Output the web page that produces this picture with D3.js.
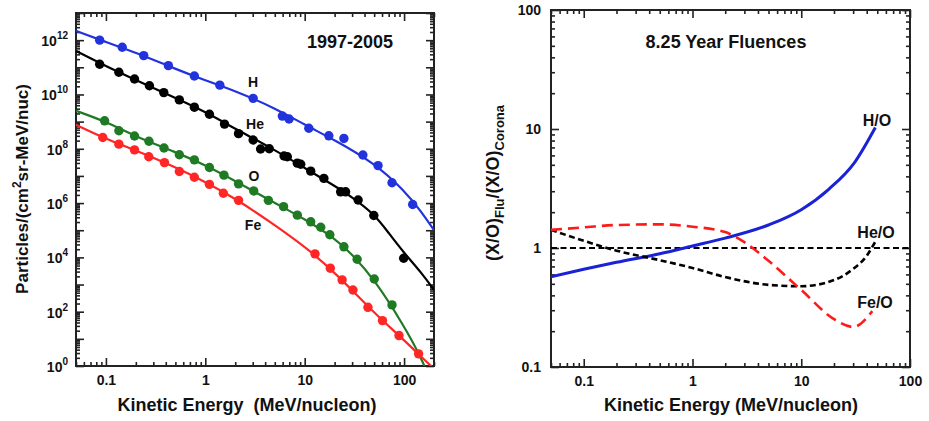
<!DOCTYPE html>
<html>
<head>
<meta charset="utf-8">
<script src="https://cdnjs.cloudflare.com/ajax/libs/d3/7.8.5/d3.min.js"></script>
<style>
  body { margin: 0; background: #fff; }
  svg text { font-family: "Liberation Sans", Arial, Helvetica, sans-serif; font-weight: bold; fill: #111; }
  .tick line { stroke: #222; stroke-width: 1.6; }
  .tick text { font-size: 14px; }
</style>
</head>
<body>
<svg id="chart" width="929" height="421"></svg>
<script>
// ---- left panel: fluence spectra, 1997-2005 ----
const hDots = [[0.0865, 1.0e12], [0.146, 5.5e11], [0.24, 2.7e11], [0.425, 1.15e11], [0.776, 4.8e10],
  [1.40, 2.2e10], [3.03, 7.2e9], [5.96, 1.6e9], [6.96, 1.25e9], [11.0, 5.7e8], [17.5, 3.0e8],
  [24.8, 2.4e8], [38.5, 5.9e7], [54.7, 2.4e7], [75.6, 5.6e6], [122, 8.9e5]];
const hFit = [[0.05, 2.2e12], [0.1, 8.5e11], [0.2, 3.5e11], [0.5, 8.7e10], [1, 3.3e10], [2, 1.35e10],
  [5, 3.2e9], [10, 7.6e8], [20, 2.1e8], [50, 3.0e7], [100, 3.0e6], [150, 4.7e5], [200, 1.0e5]];

const heDots = [[0.0865, 1.3e11], [0.135, 6.6e10], [0.194, 3.7e10], [0.274, 2.1e10], [0.382, 1.17e10],
  [0.548, 6.3e9], [0.776, 3.4e9], [1.10, 1.86e9], [1.56, 8.1e8], [2.16, 3.6e8], [3.03, 2.1e8],
  [3.6, 9.8e7], [4.4, 1.0e8], [6.20, 5.4e7], [6.69, 5.1e7], [8.43, 2.95e7], [9.12, 2.7e7],
  [11.5, 1.5e7], [15.6, 8.1e6], [23.0, 2.6e6], [25.8, 2.6e6], [34.5, 1.3e6], [49.6, 3.5e5], [99, 9.3e3]];
const heFit = [[0.05, 4.0e11], [0.1, 1.1e11], [0.2, 3.4e10], [0.5, 7.4e9], [1, 2.3e9], [2, 5.4e8],
  [5, 9.1e7], [10, 1.95e7], [20, 4.3e6], [30, 1.66e6], [50, 4.0e5], [70, 7.9e4], [100, 1.45e4],
  [150, 2.7e3], [200, 6.3e2]];

const oDots = [[0.097, 1.07e9], [0.135, 4.6e8], [0.194, 2.95e8], [0.271, 1.9e8], [0.384, 1.07e8],
  [0.548, 6.0e7], [0.776, 3.9e7], [1.10, 2.04e7], [1.54, 1.07e7], [2.16, 5.1e6], [3.07, 2.8e6],
  [4.31, 1.26e6], [6.13, 7.4e5], [8.43, 3.6e5], [11.5, 2.04e5], [14.5, 1.29e5], [17.9, 6.8e4],
  [24.8, 2.45e4], [33.7, 8.5e3], [50.1, 1.6e3], [75.6, 178]];
const oFit = [[0.05, 2.5e9], [0.1, 1.0e9], [0.2, 2.8e8], [0.5, 7.6e7], [1, 2.5e7], [2, 6.5e6],
  [5, 1.0e6], [10, 2.6e5], [20, 5.1e4], [30, 1.3e4], [50, 1.6e3], [100, 30], [150, 1.95], [200, 0.14]];

const feDots = [[0.093, 2.6e8], [0.135, 1.48e8], [0.194, 9.1e7], [0.270, 5.1e7], [0.388, 3.1e7],
  [0.548, 1.45e7], [0.776, 8.9e6], [1.10, 4.9e6], [1.52, 2.3e6], [2.16, 1.26e6], [12.7, 1.35e4],
  [18.1, 4.0e3], [23.8, 1.48e3], [30.6, 630], [43.3, 145], [60.6, 47], [88.9, 13.2], [140, 2.8]];
const feFit = [[0.05, 7.6e8], [0.1, 2.3e8], [0.2, 8.7e7], [0.5, 2.1e7], [1, 6.0e6], [2, 1.5e6],
  [5, 1.55e5], [10, 2.5e4], [20, 2.9e3], [50, 89], [100, 9.1], [150, 2.1], [200, 0.8]];

const leftXTicks = [0.1, 1, 10, 100];
const leftYExps = [0, 2, 4, 6, 8, 10, 12];

// ---- right panel: abundance ratios relative to corona ----
const hoE = [0.05, 0.1, 0.2, 0.5, 1, 2, 5, 10, 18, 31, 48];
const hoR = [0.574, 0.662, 0.758, 0.895, 1.04, 1.21, 1.56, 2.1, 3.13, 5.25, 10.3];
const heoE = [0.05, 0.1, 0.2, 0.5, 1, 2, 5, 10, 20, 30, 40, 49];
const heoR = [1.42, 1.15, 0.95, 0.79, 0.68, 0.57, 0.49, 0.477, 0.538, 0.667, 0.86, 1.17];
const feoE = [0.05, 0.1, 0.2, 0.5, 1, 2, 3, 5, 10, 20, 30, 45];
const feoR = [1.42, 1.49, 1.56, 1.58, 1.51, 1.36, 1.12, 0.78, 0.444, 0.253, 0.217, 0.295];
const unityLevel = 1;

const rightXTicks = [0.1, 1, 10, 100];
const rightYTicks = [0.1, 1, 10, 100];

const svg = d3.select("#chart");
svg.append("rect").attr("width", 929).attr("height", 421).attr("fill", "#fff");

// every 1..9 x 10^k inside [lo, hi]
function logSteps(lo, hi) {
  const out = [];
  for (let k = Math.floor(Math.log10(lo)); k <= Math.ceil(Math.log10(hi)); k++) {
    for (let m = 1; m < 10; m++) {
      const v = m * Math.pow(10, k);
      if (v >= lo * 0.999 && v <= hi * 1.001) out.push({ v: v, m: m });
    }
  }
  return out;
}

function isMajor(v, list) { return list.some(t => Math.abs(t / v - 1) < 1e-6); }

function drawFrame(x, y, xMajor, yMajor, yMinor, id) {
  const [x0, x1] = x.range(), [y0, y1] = y.range();
  const xs = logSteps(...x.domain()).map(d => d.v);
  const xMinor = xs.filter(v => !isMajor(v, xMajor));
  const g = svg.append("g");

  const ax = (axis, tr) => {
    const a = g.append("g").attr("transform", tr).call(axis);
    a.select(".domain").remove();
    a.attr("font-size", null).attr("font-family", null);
    return a;
  };
  ax(d3.axisBottom(x).tickValues(xMajor).tickSize(-8).tickPadding(9).tickFormat(d3.format("~g")), `translate(0,${y0})`);
  ax(d3.axisBottom(x).tickValues(xMinor).tickSize(-4).tickFormat(""), `translate(0,${y0})`);
  ax(d3.axisTop(x).tickValues(xMajor).tickSize(-8).tickFormat(""), `translate(0,${y1})`);
  ax(d3.axisTop(x).tickValues(xMinor).tickSize(-4).tickFormat(""), `translate(0,${y1})`);

  ax(d3.axisLeft(y).tickValues(yMajor).tickSize(-8).tickFormat(""), `translate(${x0},0)`);
  ax(d3.axisLeft(y).tickValues(yMinor).tickSize(-4).tickFormat(""), `translate(${x0},0)`);
  ax(d3.axisRight(y).tickValues(yMajor).tickSize(-8).tickFormat(""), `translate(${x1},0)`);
  ax(d3.axisRight(y).tickValues(yMinor).tickSize(-4).tickFormat(""), `translate(${x1},0)`);

  g.append("rect").attr("x", x0).attr("y", y1).attr("width", x1 - x0).attr("height", y0 - y1)
    .attr("fill", "none").attr("stroke", "#222").attr("stroke-width", 2);

  svg.append("clipPath").attr("id", id).append("rect")
    .attr("x", x0).attr("y", y1).attr("width", x1 - x0).attr("height", y0 - y1);
  return g;
}

// ================= left panel =================
const xL = d3.scaleLog().domain([0.05, 200]).range([76, 434]);
const yL = d3.scaleLog().domain([1, 1e13]).range([366, 13]);

const yLSteps = logSteps(1, 1e13);
const yLMajor = yLSteps.filter(d => d.m === 1).map(d => d.v);
const yLMinor = yLSteps.filter(d => d.m !== 1).map(d => d.v);
const gL = drawFrame(xL, yL, leftXTicks, yLMajor, yLMinor, "clipL");

leftYExps.forEach(e => {
  const t = gL.append("text").attr("x", 68).attr("y", yL(Math.pow(10, e)) + 6)
    .attr("text-anchor", "end").attr("font-size", 14);
  t.append("tspan").text("10");
  t.append("tspan").attr("dy", -7).attr("font-size", 10).text(e);
});

const lineL = d3.line().x(d => xL(d[0])).y(d => yL(d[1])).curve(d3.curveBasis);
const spectra = [
  { fit: hFit, dots: hDots, color: "#2233dd", label: "H", lx: 253, ly: 87 },
  { fit: heFit, dots: heDots, color: "#000000", label: "He", lx: 255, ly: 129 },
  { fit: oFit, dots: oDots, color: "#1f7a24", label: "O", lx: 254, ly: 181 },
  { fit: feFit, dots: feDots, color: "#ff2626", label: "Fe", lx: 253, ly: 230 }
];
const plotL = svg.append("g").attr("clip-path", "url(#clipL)");
spectra.forEach(s => {
  plotL.append("path").attr("d", lineL(s.fit)).attr("fill", "none")
    .attr("stroke", s.color).attr("stroke-width", 2.2);
  plotL.selectAll(null).data(s.dots).enter().append("circle")
    .attr("cx", d => xL(d[0])).attr("cy", d => yL(d[1])).attr("r", 4.7).attr("fill", s.color);
  svg.append("text").attr("x", s.lx).attr("y", s.ly).attr("text-anchor", "middle")
    .attr("font-size", 14).text(s.label);
});

svg.append("text").attr("x", 350).attr("y", 48).attr("text-anchor", "middle")
  .attr("font-size", 18).text("1997-2005");
svg.append("text").attr("x", 247).attr("y", 411).attr("text-anchor", "middle")
  .attr("font-size", 18).attr("xml:space", "preserve").style("white-space", "pre")
  .text("Kinetic Energy  (MeV/nucleon)");
const tyL = svg.append("text").attr("transform", "translate(28,189) rotate(-90)")
  .attr("text-anchor", "middle").attr("font-size", 17);
tyL.append("tspan").text("Particles/(cm");
tyL.append("tspan").attr("dy", -7).attr("font-size", 12).text("2");
tyL.append("tspan").attr("dy", 7).text("sr-MeV/nuc)");

// ================= right panel =================
const xR = d3.scaleLog().domain([0.05, 100]).range([551, 910]);
const yR = d3.scaleLog().domain([0.1, 100]).range([367, 10]);
const yRSteps = logSteps(0.1, 100);
const yRMinor = yRSteps.filter(d => d.m !== 1).map(d => d.v);
const gR = drawFrame(xR, yR, rightXTicks, rightYTicks, yRMinor, "clipR");

gR.append("g").attr("transform", "translate(551,0)")
  .call(d3.axisLeft(yR).tickValues(rightYTicks).tickSize(0).tickPadding(10).tickFormat(d3.format("~g")))
  .attr("font-size", null).attr("font-family", null)
  .call(a => a.select(".domain").remove());

const lineR = d3.line().x(d => xR(d[0])).y(d => yR(d[1])).curve(d3.curveMonotoneX);
const plotR = svg.append("g").attr("clip-path", "url(#clipR)");

plotR.append("path").attr("d", lineR(xR.domain().map(e => [e, unityLevel])))
  .attr("fill", "none").attr("stroke", "#000").attr("stroke-width", 2).attr("stroke-dasharray", "6,3.5");

const ratios = [
  { e: hoE, r: hoR, color: "#1a22d6", dash: null, w: 3, label: "H/O", lx: 877, ly: 126 },
  { e: heoE, r: heoR, color: "#000000", dash: "6,3.5", w: 2.6, label: "He/O", lx: 876, ly: 238 },
  { e: feoE, r: feoR, color: "#ff1a1a", dash: "11,6", w: 2.6, label: "Fe/O", lx: 875, ly: 308 }
];
ratios.forEach(s => {
  plotR.append("path").attr("d", lineR(s.e.map((e, i) => [e, s.r[i]])))
    .attr("fill", "none").attr("stroke", s.color).attr("stroke-width", s.w)
    .attr("stroke-dasharray", s.dash);
  svg.append("text").attr("x", s.lx).attr("y", s.ly).attr("text-anchor", "middle")
    .attr("font-size", 16).text(s.label);
});

svg.append("text").attr("x", 726).attr("y", 48).attr("text-anchor", "middle")
  .attr("font-size", 18).text("8.25 Year Fluences");
svg.append("text").attr("x", 731).attr("y", 411).attr("text-anchor", "middle")
  .attr("font-size", 18).text("Kinetic Energy (MeV/nucleon)");
const tyR = svg.append("text").attr("transform", "translate(499,183) rotate(-90)")
  .attr("text-anchor", "middle").attr("font-size", 18);
tyR.append("tspan").text("(X/O)");
tyR.append("tspan").attr("dy", 5).attr("font-size", 13).text("Flu");
tyR.append("tspan").attr("dy", -5).text("/(X/O)");
tyR.append("tspan").attr("dy", 5).attr("font-size", 13).text("Corona");
</script>
</body>
</html>
